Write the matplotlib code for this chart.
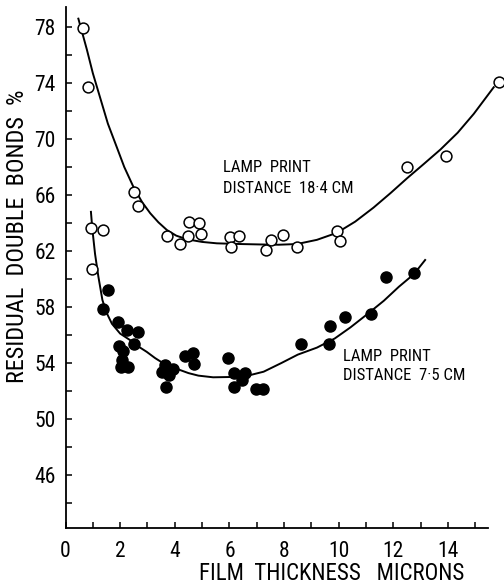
import matplotlib
matplotlib.use("Agg")
import matplotlib.pyplot as plt
from matplotlib import font_manager

# pick a narrow sans if one is installed
names = {f.name for f in font_manager.fontManager.ttflist}
font = "DejaVu Sans"
for cand in ["Liberation Sans Narrow", "DejaVu Sans Condensed", "Roboto Condensed"]:
    if cand in names:
        font = cand
        break
plt.rcParams["font.family"] = [font, "DejaVu Sans"]

# Lamp print distance 18.4 cm (open circles)
open_x = [0.65, 0.81, 0.93, 0.96, 1.38, 2.52, 2.66, 3.73, 4.18, 4.53, 4.48, 4.89, 4.94,
          6.03, 6.06, 6.34, 7.34, 7.52, 7.95, 8.47, 9.92, 10.05, 12.51, 13.91, 15.87]
open_y = [77.95, 73.7, 63.62, 60.7, 63.5, 66.2, 65.2, 63.1, 62.5, 64.05, 63.1, 64.0, 63.25,
          63.0, 62.26, 63.1, 62.1, 62.76, 63.17, 62.3, 63.4, 62.7, 67.98, 68.8, 74.05]

# fitted curve, 18.4 cm
curve1_x = [0.47, 0.78, 1.0, 1.26, 1.55, 1.87, 2.15, 2.48, 2.8, 3.1, 3.4, 3.71, 4.05,
            4.44, 5.0, 5.54, 6.4, 7.12, 7.8, 8.47, 9.2, 9.93, 10.6, 11.27, 11.9, 12.5,
            13.1, 13.72, 14.35, 14.94, 15.67]
curve1_y = [78.6, 76.4, 74.7, 73.0, 71.1, 69.45, 68.0, 66.6, 65.5, 64.7, 64.05, 63.5, 63.1,
            62.84, 62.65, 62.55, 62.5, 62.47, 62.45, 62.5, 62.8, 63.3, 64.1, 65.1, 66.15,
            67.2, 68.2, 69.25, 70.45, 71.8, 73.7]

# Lamp print distance 7.5 cm (filled circles)
fill_x = [1.57, 1.38, 1.93, 2.24, 2.64, 1.97, 2.1, 2.51, 2.02, 2.3, 2.08, 3.64, 3.93,
          3.52, 3.77, 3.66, 4.38, 4.68, 4.72, 5.93, 6.15, 6.58, 6.45, 6.15, 6.98, 7.22,
          8.61, 9.63, 9.69, 10.24, 11.19, 11.71, 12.77]
fill_y = [59.2, 57.88, 56.95, 56.36, 56.24, 55.2, 54.86, 55.36, 53.74, 53.74, 54.2, 53.86,
          53.6, 53.34, 53.14, 52.26, 54.5, 54.74, 53.9, 54.33, 53.26, 53.3, 52.8, 52.3,
          52.12, 52.12, 55.33, 55.36, 56.66, 57.3, 57.52, 60.16, 60.45]

# fitted curve, 7.5 cm
curve2_x = [0.93, 0.98, 1.08, 1.20, 1.35, 1.50, 1.70, 2.00, 2.36, 2.65, 2.97, 3.28, 3.58,
            3.90, 4.19, 4.50, 4.86, 5.40, 6.00, 6.50, 6.76, 7.25, 7.90, 8.50, 9.20, 9.85,
            10.43, 11.05, 11.65, 12.20, 12.75, 13.16]
curve2_y = [64.8, 63.6, 61.8, 60.2, 58.5, 57.6, 56.8, 56.1, 55.64, 55.2, 54.8, 54.35, 53.98,
            53.72, 53.5, 53.28, 53.1, 52.98, 53.0, 53.08, 53.14, 53.38, 54.0, 54.6, 55.1,
            55.75, 56.55, 57.5, 58.45, 59.45, 60.35, 61.36]

x_ticks = [0, 2, 4, 6, 8, 10, 12, 14]
x_minor = [1, 3, 5, 7, 9, 11, 13, 15]
y_ticks = [46, 50, 54, 58, 62, 66, 70, 74, 78]
y_minor = [44, 48, 52, 56, 60, 64, 68, 72, 76]

fig = plt.figure(figsize=(5.04, 5.88), dpi=100)
ax = fig.add_axes([0.130, 0.1017, 0.8675, 0.888])

ax.plot(curve1_x, curve1_y, color="black", lw=1.4, clip_on=False)
ax.plot(curve2_x, curve2_y, color="black", lw=1.4, clip_on=False)
ax.plot(open_x, open_y, "o", ms=7.8, mfc="white", mec="black", mew=1.1,
        clip_on=False, zorder=3)
ax.plot(fill_x, fill_y, "o", ms=8, mfc="black", mec="black", clip_on=False, zorder=3)

ax.set_xlim(0, 16.0)
ax.set_ylim(42.2, 79.5)
ax.spines["top"].set_visible(False)
ax.spines["right"].set_visible(False)
ax.spines["bottom"].set_bounds(0, 15.45)
ax.spines["left"].set_bounds(42.2, 79.4)
for s in ["left", "bottom"]:
    ax.spines[s].set_linewidth(1.3)

ax.set_xticks(x_ticks)
ax.set_yticks(y_ticks)
ax.set_xticks(x_minor, minor=True)
ax.set_yticks(y_minor, minor=True)
ax.tick_params(axis="both", which="both", direction="in", length=4, width=1.1)
ax.tick_params(axis="x", which="major", pad=9, labelsize=15.5)
ax.tick_params(axis="y", which="major", pad=7, labelsize=15.5)

ax.text(5.76, 68.0, "LAMP  PRINT", fontsize=12, va="center", ha="left")
ax.text(5.76, 66.5, "DISTANCE  18·4 CM", fontsize=12, va="center", ha="left")
ax.text(10.15, 54.45, "LAMP  PRINT", fontsize=12, va="center", ha="left")
ax.text(10.15, 53.1, "DISTANCE  7·5 CM", fontsize=12, va="center", ha="left")

fig.text(0.658, 0.013, "FILM  THICKNESS   MICRONS", fontsize=16.5, ha="center",
         va="baseline")
fig.text(0.034, 0.599, "RESIDUAL  DOUBLE  BONDS  %", fontsize=17.5, ha="center",
         va="center", rotation=90)

fig.savefig("out.png", dpi=100)
